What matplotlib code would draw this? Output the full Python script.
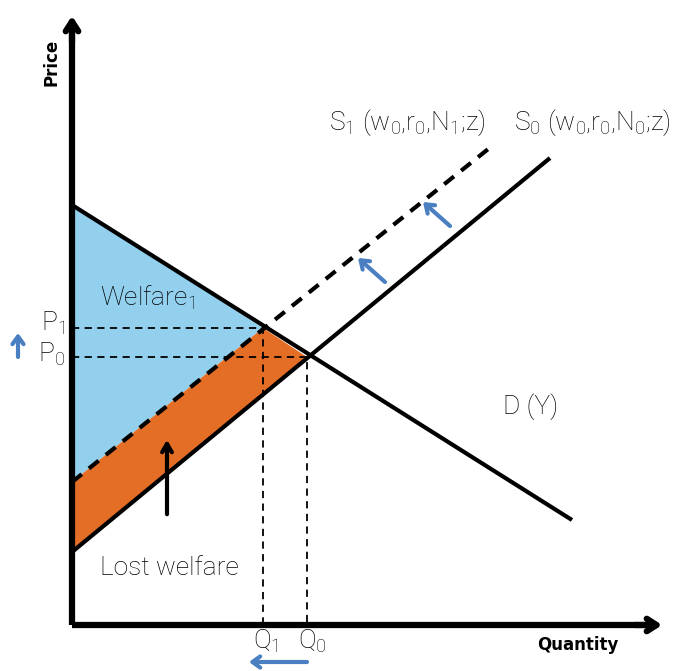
import matplotlib.pyplot as plt

plt.rcParams['font.family'] = ['Roboto', 'DejaVu Sans']
plt.rcParams['font.weight'] = 'light'
plt.rcParams['mathtext.fontset'] = 'custom'
plt.rcParams['mathtext.rm'] = 'Roboto:light'

# curve end points (quantity, price) in chart units, origin at axes corner
demand_q = [0, 500]
demand_p = [420, 105]
s0_q = [0, 478]
s0_p = [73, 467]
s1_q = [0, 420]
s1_p = [143, 479]

# equilibria
q1, p1 = 191, 297
q0, p0 = 235, 268

# shaded areas
welfare_q = [0, q1, 0]
welfare_p = [420, p1, 143]
lost_q = [0, q1, q0, 0]
lost_p = [143, p1, p0, 73]

fig = plt.figure(figsize=(6.8, 6.71), dpi=100)
ax = fig.add_axes([0, 0, 1, 1])
ax.set_xlim(-72, 608)
ax.set_ylim(-46, 625)
ax.axis('off')

ax.fill(welfare_q, welfare_p, color='#92d0ee', lw=0, zorder=1)
ax.fill(lost_q, lost_p, color='#e46e25', lw=0, zorder=1)

ax.plot(demand_q, demand_p, color='black', lw=3, solid_capstyle='butt', zorder=3)
ax.plot(s0_q, s0_p, color='black', lw=3, solid_capstyle='butt', zorder=3)
ax.plot(s1_q, s1_p, color='black', lw=3, ls=(0, (3, 2.2)), zorder=3)

# dashed guides
ax.plot([0, q1, q1], [p1, p1, 0], color='black', lw=1.3, ls=(0, (4, 3)), zorder=2)
ax.plot([0, q0, q0], [p0, p0, 0], color='black', lw=1.3, ls=(0, (4, 3)), zorder=2)

# axes with arrows
ax.plot([0, 0], [0, 600], color='black', lw=4.5, solid_capstyle='butt', zorder=4)
ax.plot([0, 585], [0, 0], color='black', lw=4.5, solid_capstyle='butt', zorder=4)
ax.annotate('', xy=(0, 612), xytext=(0, 580),
            arrowprops=dict(arrowstyle='->,head_length=0.7,head_width=0.45', lw=4.5, color='black'), zorder=5)
ax.annotate('', xy=(593, 0), xytext=(560, 0),
            arrowprops=dict(arrowstyle='->,head_length=0.7,head_width=0.45', lw=4.5, color='black'), zorder=5)

# shift arrows
ax.annotate('', xy=(95, 188), xytext=(95, 108),
            arrowprops=dict(arrowstyle='->,head_length=0.6,head_width=0.35', lw=3, color='black'), zorder=5)
blue = '#4a7fc1'
bstyle = dict(arrowstyle='->,head_length=0.55,head_width=0.4', lw=3, color=blue,
              shrinkA=0, shrinkB=0)
for (x0, y0, x1, y1) in [(313, 343, 286, 367), (378, 399, 351, 423)]:
    ax.annotate('', xy=(x1, y1), xytext=(x0, y0), arrowprops=bstyle)
ax.annotate('', xy=(-54, 292), xytext=(-54, 268), arrowprops=bstyle)
ax.annotate('', xy=(177, -37), xytext=(235, -37), arrowprops=bstyle)

fs = 19
ax.text(-20, 563, 'Price', rotation=90, fontsize=12, fontweight='bold',
        family='DejaVu Sans', ha='center', va='center')
ax.text(506, -20, 'Quantity', fontsize=12, fontweight='bold',
        family='DejaVu Sans', ha='center', va='center')
ax.text(28, 327, 'Welfare$_1$', fontsize=fs, va='center')
ax.text(28, 57, 'Lost welfare', fontsize=fs, va='center')
ax.text(431, 218, 'D (Y)', fontsize=fs, va='center')
ax.text(-7, 302, 'P$_1$', fontsize=fs, ha='right', va='center')
ax.text(-7, 271, 'P$_0$', fontsize=fs, ha='right', va='center')
ax.text(q1 + 3, -16, 'Q$_1$', fontsize=fs, ha='center', va='center')
ax.text(q0 + 5, -16, 'Q$_0$', fontsize=fs, ha='center', va='center')
ax.text(257, 502, 'S$_1$ (w$_0$,r$_0$,N$_1$;z)', fontsize=fs, va='center')
ax.text(442, 502, 'S$_0$ (w$_0$,r$_0$,N$_0$;z)', fontsize=fs, va='center')

fig.savefig('out.png', dpi=100)
